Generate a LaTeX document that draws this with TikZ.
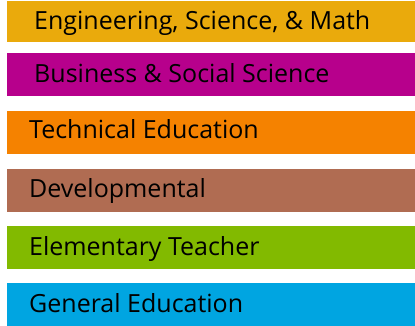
\documentclass[tikz,border=0pt]{standalone}
\usepackage{fontspec}
\setmainfont{Open Sans}
\definecolor{cEng}{RGB}{234,170,12}
\definecolor{cBus}{RGB}{183,0,140}
\definecolor{cTec}{RGB}{245,130,0}
\definecolor{cDev}{RGB}{176,108,82}
\definecolor{cEle}{RGB}{130,186,0}
\definecolor{cGen}{RGB}{0,165,225}
\tikzset{
  lbl/.style={anchor=base west, inner sep=0pt, font=\fontsize{25}{28}\selectfont, text=black}
}
\begin{document}
\begin{tikzpicture}[x=1pt,y=-1pt]
\useasboundingbox (0,0) rectangle (415,326);
\fill[cEng] (7,1) rectangle (415,42);
\fill[cBus] (7,53) rectangle (415,96);
\fill[cTec] (7,111) rectangle (415,154);
\fill[cDev] (7,169) rectangle (415,212);
\fill[cEle] (7,226) rectangle (415,269);
\fill[cGen] (7,283) rectangle (415,326);
\node[lbl] (eng) at (34,30) {Engineering, Science, \& Math};
\node[lbl] (bus) at (34,83) {Business \& Social Science};
\node[lbl] (tec) at (29,139) {Technical Education};
\node[lbl] (dev) at (29,197) {Developmental};
\node[lbl] (ele) at (29,255) {Elementary Teacher};
\node[lbl] (gen) at (29,312) {General Education};
\end{tikzpicture}
\end{document}
